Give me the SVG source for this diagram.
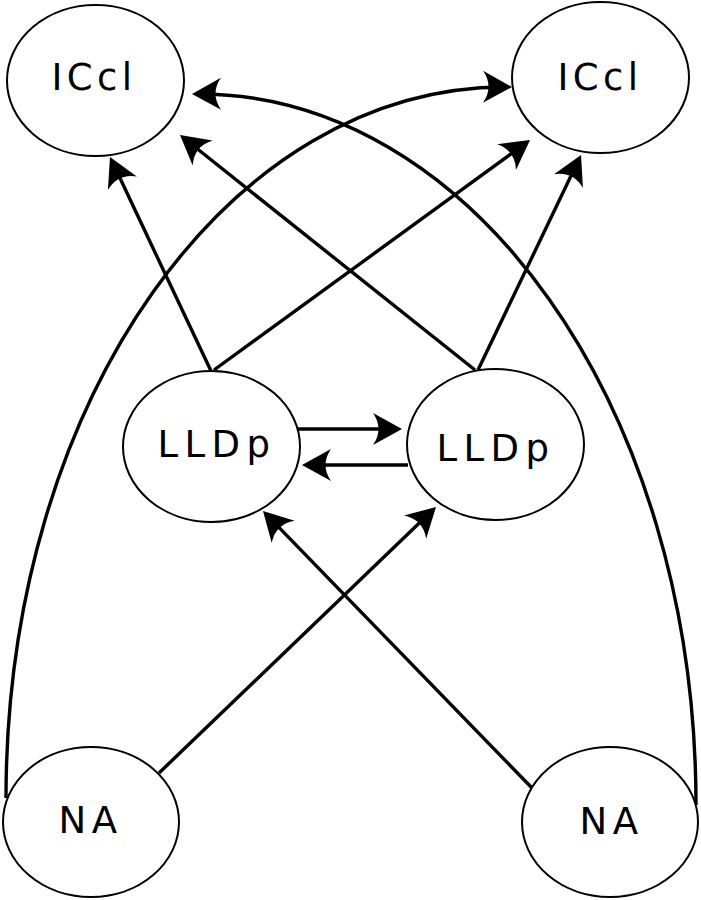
<svg xmlns="http://www.w3.org/2000/svg" width="701" height="900" viewBox="0 0 701 900">
  <style>
    .node ellipse { fill: #ffffff; stroke: #000000; stroke-width: 2; }
    .node text { font-family: "DejaVu Sans", "Liberation Sans", sans-serif; font-size: 37px; fill: #000000; }
    .edge { fill: none; stroke: #000000; stroke-width: 3.4; marker-end: url(#arrow); }
  </style>
  <defs>
    <marker id="arrow" markerUnits="userSpaceOnUse" viewBox="-28 -18 34 36" markerWidth="34" markerHeight="36" refX="0" refY="0" orient="auto" overflow="visible">
      <path d="M4,0 L-25,-16 Q-14,0 -25,16 Z" fill="#000000"/>
    </marker>
  </defs>
  <rect width="701" height="900" fill="#ffffff"/>
  <g id="connectors">
    <path class="edge" d="M211,371 L111.7,160.6"/>
    <path class="edge" d="M214,370 L526.8,142.4"/>
    <path class="edge" d="M475,370 L183.1,137.5"/>
    <path class="edge" d="M478,370 L579.3,158.6"/>
    <path class="edge" d="M298,429 L398,429"/>
    <path class="edge" d="M408,465 L306,465"/>
    <path class="edge" d="M159,773 L433.1,509.8"/>
    <path class="edge" d="M532,788 L265.8,513.9"/>
    <path class="edge" d="M6,798 C6,400 230,85 508,87"/>
    <path class="edge" d="M696,805 C696,405 470,92 196,94"/>
  </g>
  <g id="iccl-left" class="node">
    <ellipse cx="95.5" cy="80.5" rx="88.5" ry="75.5"/>
    <text x="51.4" y="90" letter-spacing="4.4">ICcl</text>
  </g>
  <g id="iccl-right" class="node">
    <ellipse cx="600.5" cy="77.5" rx="88.5" ry="75.5"/>
    <text x="557.4" y="90" letter-spacing="4.4">ICcl</text>
  </g>
  <g id="lldp-left" class="node">
    <ellipse cx="211.5" cy="446.5" rx="88.5" ry="75.5"/>
    <text x="157.4" y="457" letter-spacing="6.5">LLDp</text>
  </g>
  <g id="lldp-right" class="node">
    <ellipse cx="495.5" cy="444.5" rx="88.5" ry="75.5"/>
    <text x="436.4" y="461" letter-spacing="6.5">LLDp</text>
  </g>
  <g id="na-left" class="node">
    <ellipse cx="91" cy="822" rx="88" ry="75"/>
    <text x="58.4" y="833" letter-spacing="5.6">NA</text>
  </g>
  <g id="na-right" class="node">
    <ellipse cx="610" cy="822" rx="88" ry="75"/>
    <text x="579.4" y="834" letter-spacing="5.6">NA</text>
  </g>
</svg>
